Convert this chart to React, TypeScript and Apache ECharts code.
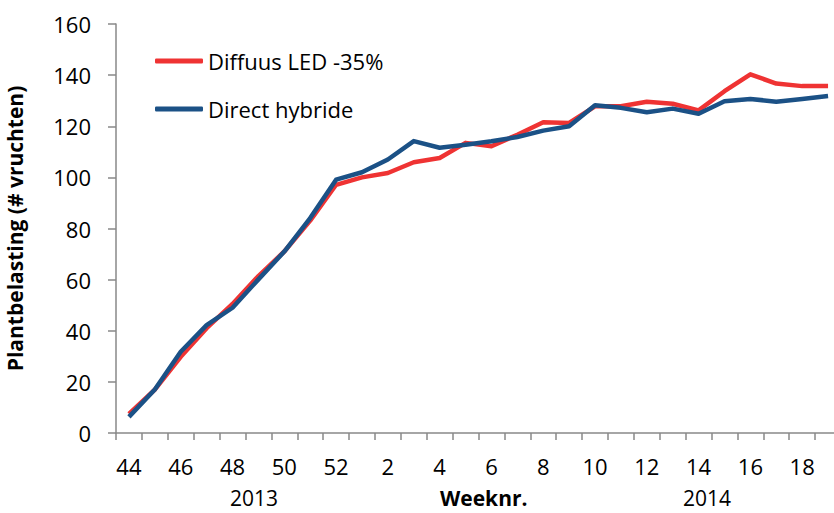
import React, { useEffect, useRef } from "react";
import * as echarts from "echarts";

const weeks = ["44","45","46","47","48","49","50","51","52","1","2","3","4","5","6","7","8","9","10","11","12","13","14","15","16","17","18","19"];
const diffuusLED = [7.5, 17, 29.8, 41, 50.5, 61.4, 71, 83.1, 97.1, 100, 101.7, 105.9, 107.6, 113.5, 112.2, 116.7, 121.6, 121.3, 127.8, 127.8, 129.6, 128.8, 126.2, 133.7, 140.3, 136.7, 135.7, 135.7];
const directHybride = [6.3, 17, 31.8, 42.2, 49, 60.1, 71, 84.1, 99.1, 102, 107, 114.2, 111.6, 112.8, 114.1, 115.8, 118.3, 120, 128.2, 127.2, 125.5, 126.9, 124.9, 129.8, 130.7, 129.6, 130.7, 131.8];
const seriesNames = ["Diffuus LED -35%", "Direct hybride"];
const yearLabels = ["2013", "2014"];
const xTitle = "Weeknr.";
const yTitle = "Plantbelasting (# vruchten)";

const FONT = "Open Sans";

export default function App() {
  const ref = useRef<HTMLDivElement>(null);
  useEffect(() => {
    if (!ref.current) return;
    const chart = echarts.init(ref.current, null, { renderer: "svg" });
    const axisColor = "#898989";
    chart.setOption({
      animation: false,
      backgroundColor: "#ffffff",
      textStyle: { fontFamily: FONT },
      grid: { left: 116, top: 24, bottom: 80, right: -7, containLabel: false, outerBoundsMode: "none" },
      legend: {
        orient: "vertical",
        left: 155,
        top: 50,
        padding: 0,
        itemWidth: 48,
        itemHeight: 5,
        itemGap: 26,
        icon: "roundRect",
        textStyle: { fontFamily: FONT, fontSize: 22, color: "#000" },
        data: seriesNames,
      },
      xAxis: {
        type: "category",
        data: weeks,
        boundaryGap: true,
        axisLine: { lineStyle: { color: axisColor, width: 1.5 } },
        axisTick: { show: true, length: 7, interval: 0, lineStyle: { color: axisColor, width: 1.5 } },
        axisLabel: { interval: 1, margin: 22, fontSize: 22, color: "#000", fontFamily: FONT },
        splitLine: { show: false },
      },
      yAxis: {
        type: "value",
        min: 0,
        max: 160,
        interval: 20,
        name: yTitle,
        nameLocation: "middle",
        nameGap: 91,
        nameTextStyle: { fontFamily: FONT, fontSize: 21, fontWeight: "bold", color: "#000" },
        axisLine: { show: true, lineStyle: { color: axisColor, width: 1.5 } },
        axisTick: { show: true, length: 8, lineStyle: { color: axisColor, width: 1.5 } },
        axisLabel: { margin: 25, fontSize: 22, color: "#000", fontFamily: FONT },
        splitLine: { show: false },
      },
      series: [
        {
          name: seriesNames[0],
          type: "line",
          data: diffuusLED,
          symbol: "none",
          lineStyle: { color: "#EF3333", width: 4.5, join: "round" },
          itemStyle: { color: "#EF3333" },
        },
        {
          name: seriesNames[1],
          type: "line",
          data: directHybride,
          symbol: "none",
          lineStyle: { color: "#1B5186", width: 4.5, join: "round" },
          itemStyle: { color: "#1B5186" },
        },
      ],
      graphic: [
        { type: "text", left: 230, top: 487, style: { text: yearLabels[0], fontFamily: FONT, fontSize: 21, lineHeight: 21, fill: "#000" } },
        { type: "text", left: 440, top: 487, style: { text: xTitle, fontFamily: FONT, fontSize: 21, lineHeight: 21, fontWeight: "bold", fill: "#000" } },
        { type: "text", left: 683, top: 487, style: { text: yearLabels[1], fontFamily: FONT, fontSize: 21, lineHeight: 21, fill: "#000" } },
      ],
    });
    return () => chart.dispose();
  }, []);
  return <div ref={ref} style={{ position: "fixed", left: 0, top: 0, width: 834, height: 513 }} />;
}
